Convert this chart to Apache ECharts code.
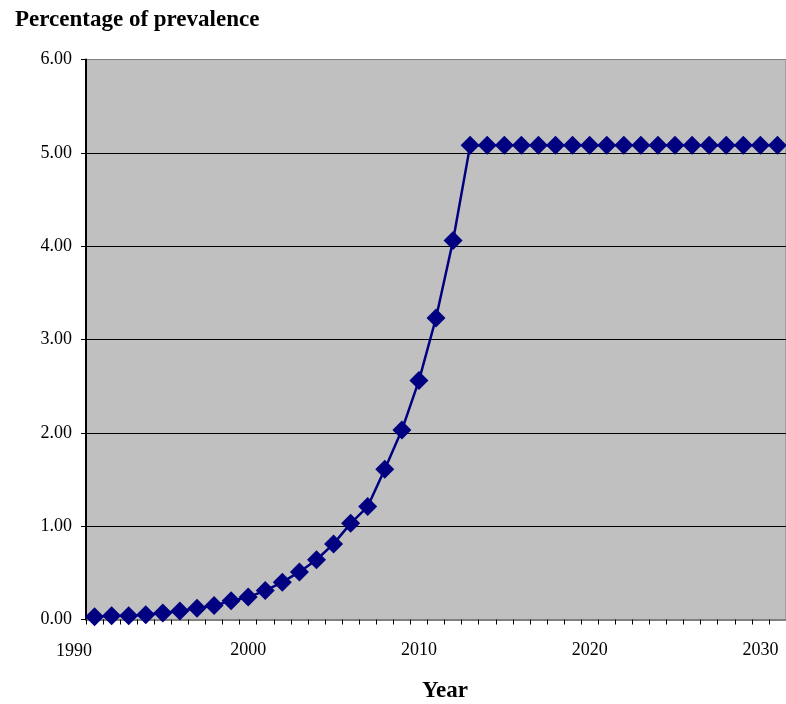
<!DOCTYPE html>
<html>
<head>
<meta charset="utf-8">
<script src="https://cdn.jsdelivr.net/npm/echarts@6/dist/echarts.min.js"></script>
<style>
  html, body { margin: 0; padding: 0; background: #fff; }
  #chart { width: 786px; height: 704px; }
</style>
</head>
<body>
<div id="chart"></div>
<script>
// years shown on the category axis
const years = [];
for (let y = 1991; y <= 2031; y++) years.push(String(y));

// percentage of prevalence
const prevalence = [
  0.03, 0.04, 0.04, 0.05, 0.07, 0.09, 0.12, 0.15, 0.20, 0.24,
  0.31, 0.40, 0.51, 0.64, 0.81, 1.03, 1.21, 1.61, 2.03, 2.56,
  3.23, 4.06, 5.08, 5.08, 5.08, 5.08, 5.08, 5.08, 5.08, 5.08,
  5.08, 5.08, 5.08, 5.08, 5.08, 5.08, 5.08, 5.08, 5.08, 5.08,
  5.08
];

const yTicks = [0, 1, 2, 3, 4, 5, 6];

const serif = '"Liberation Serif", "Times New Roman", serif';

const chart = echarts.init(document.getElementById('chart'), null, { renderer: 'canvas' });

chart.setOption({
  animation: false,
  backgroundColor: '#fff',
  grid: {
    left: 86, top: 59.5, width: 705, height: 560,
    show: true,
    backgroundColor: '#c0c0c0',
    borderColor: '#808080',
    borderWidth: 1
  },
  title: {
    text: 'Percentage of prevalence',
    left: 10, top: 4,
    textStyle: { fontFamily: serif, fontWeight: 'bold', fontSize: 23, color: '#000' }
  },
  graphic: [
    {
      // the first year label sits left of the plot, outside the category range
      type: 'text', left: 56, top: 642,
      style: { text: '1990', font: '18px ' + serif, fill: '#000' }
    },
    {
      type: 'text', left: 422, top: 680,
      style: { text: 'Year', font: 'bold 23px ' + serif, fill: '#000' }
    }
  ],
  xAxis: {
    type: 'category',
    data: years,
    boundaryGap: true,
    axisLine: { lineStyle: { color: '#808080', width: 2 } },
    axisTick: { show: true, interval: 0, length: 5, lineStyle: { color: '#000' } },
    axisLabel: {
      interval: (i, v) => Number(v) % 10 === 0,
      fontFamily: serif, fontSize: 18, color: '#000', margin: 22
    },
    splitLine: { show: false }
  },
  yAxis: {
    type: 'value',
    min: yTicks[0], max: yTicks[yTicks.length - 1], interval: 1,
    axisLine: { show: true, lineStyle: { color: '#000', width: 2 } },
    axisTick: { show: true, length: 5, lineStyle: { color: '#000' } },
    axisLabel: {
      formatter: v => v.toFixed(2),
      fontFamily: serif, fontSize: 18, color: '#000', margin: 14
    },
    splitLine: {
      show: true,
      lineStyle: { color: ['#808080', '#000', '#000', '#000', '#000', '#000', '#808080'], width: 1 }
    }
  },
  series: [{
    type: 'line',
    data: prevalence,
    symbol: 'diamond',
    symbolSize: 19,
    showAllSymbol: true,
    lineStyle: { color: '#000080', width: 2.5 },
    itemStyle: { color: '#000080' }
  }]
});
</script>
</body>
</html>
